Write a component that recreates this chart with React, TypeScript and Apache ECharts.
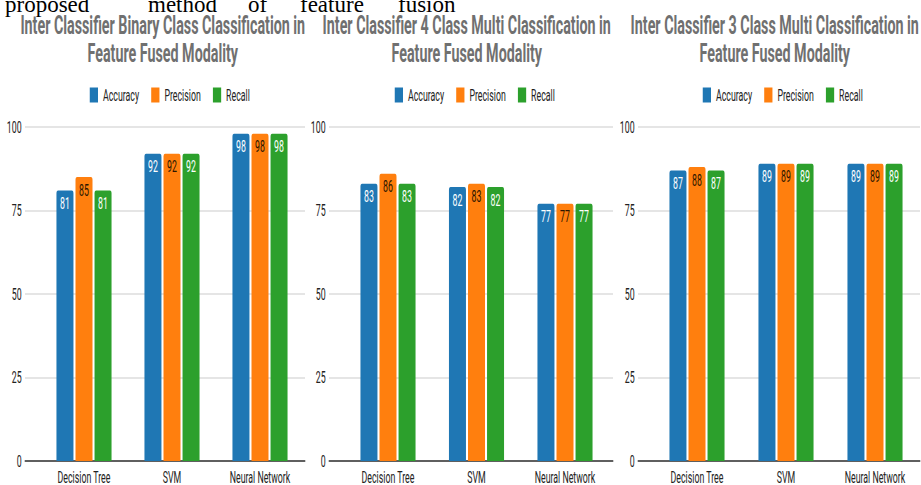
import React, { useEffect, useRef } from "react";
import * as echarts from "echarts";

const categories = ["Decision Tree", "SVM", "Neural Network"];
const seriesNames = ["Accuracy", "Precision", "Recall"];

const binaryAccuracy = [81, 92, 98];
const binaryPrecision = [85, 92, 98];
const binaryRecall = [81, 92, 98];

const fourAccuracy = [83, 82, 77];
const fourPrecision = [86, 83, 77];
const fourRecall = [83, 82, 77];

const threeAccuracy = [87, 89, 89];
const threePrecision = [88, 89, 89];
const threeRecall = [87, 89, 89];

const yTicks = [0, 25, 50, 75, 100];

const titles = [
  "Inter Classifier Binary Class Classification in\nFeature Fused Modality",
  "Inter Classifier 4 Class Multi Classification in\nFeature Fused Modality",
  "Inter Classifier 3 Class Multi Classification in\nFeature Fused Modality",
];

const captionWords = ["proposed", "method", "of", "feature", "fusion"];

const COLORS = ["#1f77b4", "#ff7f0e", "#2ca02c"];
const LABEL_COLORS = ["#ffffff", "#2a1500", "#ffffff"];

const W = 921;
const H = 485;
const LOGICAL_W = 1675;
const S = W / LOGICAL_W;

// screen-space layout per panel
const panels = [
  { lineL: 25, lineR: 305, barL: 40, barR: 304, titleX: 160, legendX: 87, values: [binaryAccuracy, binaryPrecision, binaryRecall] },
  { lineL: 329, lineR: 613, barL: 343.75, barR: 609.25, titleX: 464, legendX: 392, values: [fourAccuracy, fourPrecision, fourRecall] },
  { lineL: 638, lineR: 920, barL: 652.5, barR: 919.5, titleX: 772, legendX: 700, values: [threeAccuracy, threePrecision, threeRecall] },
];
const captionX = [5, 148, 248, 300, 398];

const GRID_TOP = 127;
const GRID_BOTTOM = 24;
const FONT = "Roboto";

export default function App() {
  const ref = useRef<HTMLDivElement>(null);

  useEffect(() => {
    if (!ref.current) return;
    const chart = echarts.init(ref.current, undefined, { renderer: "svg" });

    const grids: any[] = [];
    const xAxes: any[] = [];
    const yAxes: any[] = [];
    const series: any[] = [];
    const legends: any[] = [];
    const titleOpts: any[] = [];

    panels.forEach((p, i) => {
      grids.push({
        left: p.lineL / S,
        width: (p.lineR - p.lineL) / S,
        top: GRID_TOP,
        bottom: GRID_BOTTOM,
      });
      grids.push({
        left: p.barL / S,
        width: (p.barR - p.barL) / S,
        top: GRID_TOP,
        bottom: GRID_BOTTOM,
      });
      // grid lines + y labels + zero line
      xAxes.push({
        type: "category",
        gridIndex: 2 * i,
        data: [""],
        axisTick: { show: false },
        axisLabel: { show: false },
        axisLine: { show: true, lineStyle: { color: "#333333", width: 1.5 } },
        splitLine: { show: false },
      });
      yAxes.push({
        type: "value",
        gridIndex: 2 * i,
        min: yTicks[0],
        max: yTicks[yTicks.length - 1],
        interval: 25,
        axisLine: { show: false },
        axisTick: { show: false },
        axisLabel: { color: "#222222", fontSize: 16, fontFamily: FONT, margin: 6 },
        splitLine: { show: true, lineStyle: { color: "#dcdcdc", width: 1.5 } },
      });
      // bars
      xAxes.push({
        type: "category",
        gridIndex: 2 * i + 1,
        data: categories,
        axisTick: { show: false },
        axisLine: { show: false },
        axisLabel: { color: "#222222", fontSize: 16, fontFamily: FONT, margin: 8 },
      });
      yAxes.push({
        type: "value",
        gridIndex: 2 * i + 1,
        min: 0,
        max: 100,
        interval: 25,
        show: false,
        splitLine: { show: false },
      });
      p.values.forEach((vals, k) => {
        series.push({
          type: "bar",
          name: seriesNames[k],
          xAxisIndex: 2 * i + 1,
          yAxisIndex: 2 * i + 1,
          data: vals,
          barWidth: 17 / S,
          barGap: "12%",
          itemStyle: { color: COLORS[k], borderRadius: [3, 3, 0, 0] },
          label: {
            show: true,
            position: "insideTop",
            distance: 5,
            color: LABEL_COLORS[k],
            fontSize: 16,
            fontFamily: FONT,
          },
        });
      });
      legends.push({
        data: seriesNames,
        left: p.legendX / S,
        top: 82,
        icon: "rect",
        itemWidth: 15,
        itemHeight: 15,
        itemGap: 22,
        textStyle: { color: "#222222", fontSize: 16, fontFamily: FONT, padding: [0, 0, 0, 4] },
      });
      titleOpts.push({
        text: titles[i],
        left: p.titleX / S,
        top: 6,
        textAlign: "center",
        textStyle: {
          color: "#707070",
          fontSize: 26,
          fontWeight: "bold",
          fontFamily: FONT,
          lineHeight: 28,
        },
      });
    });

    const graphics = captionWords.map((w, i) => ({
      type: "text",
      x: captionX[i] / S,
      y: 5,
      scaleX: 1 / S,
      style: {
        text: w,
        x: 0,
        y: 0,
        font: '23px "Liberation Serif"',
        fill: "#000000",
        verticalAlign: "middle",
        align: "left",
      },
    }));

    chart.setOption({
      animation: false,
      backgroundColor: "#ffffff",
      title: titleOpts,
      legend: legends,
      grid: grids,
      xAxis: xAxes,
      yAxis: yAxes,
      series,
      graphic: graphics,
    });

    return () => chart.dispose();
  }, []);

  return (
    <div
      style={{
        position: "fixed",
        left: 0,
        top: 0,
        width: W,
        height: H,
        overflow: "hidden",
        background: "#ffffff",
      }}
    >
      <div
        ref={ref}
        style={{
          width: LOGICAL_W,
          height: H,
          transform: `scaleX(${S})`,
          transformOrigin: "0 0",
        }}
      />
    </div>
  );
}
